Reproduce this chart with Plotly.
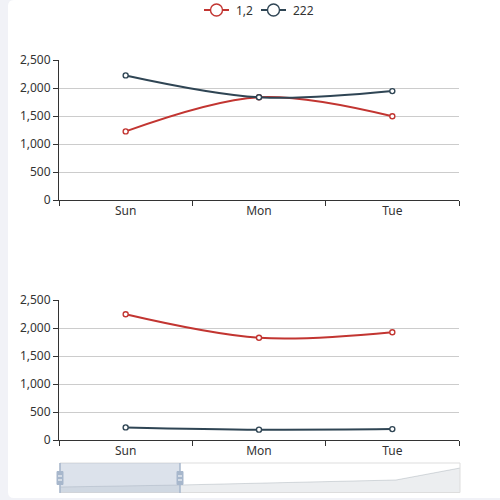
import plotly.graph_objects as go

days = ["Sun", "Mon", "Tue"]

# top grid
top_a = [1225, 1835, 1495]      # "1,2"
top_b = [2225, 1835, 1945]      # "222"
# bottom grid
bottom_a = [2245, 1825, 1925]
bottom_b = [225, 185, 195]

# dataZoom shadow (relative position, height)
shadow_pos = [0, 0.3, 0.84, 1.0]
shadow_val = [5, 7, 12, 24]

red = "#c23531"
navy = "#2f4554"
font = dict(family="Noto Sans, Open Sans, sans-serif", size=12, color="#333")

fig = go.Figure()


def add_line(x, y, color, xa, ya):
    fig.add_trace(go.Scatter(
        x=x, y=y, mode="lines+markers", xaxis=xa, yaxis=ya,
        line=dict(color=color, width=2, shape="spline"),
        marker=dict(symbol="circle", size=5, color="white",
                    line=dict(color=color, width=1.4)),
        showlegend=False, hoverinfo="skip"))


add_line(days, top_a, red, "x", "y")
add_line(days, top_b, navy, "x", "y")
add_line(days, bottom_a, red, "x2", "y2")
add_line(days, bottom_b, navy, "x2", "y2")

fig.add_trace(go.Scatter(
    x=shadow_pos, y=shadow_val, xaxis="x3", yaxis="y3", mode="lines",
    line=dict(color="rgba(47,69,84,0.3)", width=0.6),
    fill="tozeroy", fillcolor="rgba(47,69,84,0.09)",
    showlegend=False, hoverinfo="skip"))

xdom = [59 / 500, 459 / 500]
cat_axis = dict(type="category", range=[-0.5, 2.5], domain=xdom,
                showline=True, linecolor="#333", linewidth=1,
                ticks="outside", tickson="boundaries", ticklen=5,
                tickcolor="#333", showgrid=False, zeroline=False,
                tickfont=font, fixedrange=True, automargin=False)
val_axis = dict(range=[0, 2500], dtick=500, tickformat=",",
                showline=True, linecolor="#333", linewidth=1,
                ticks="outside", ticklen=5, tickcolor="#333",
                gridcolor="#ccc", zeroline=False, tickfont=font,
                fixedrange=True, automargin=False)

fig.update_layout(
    width=500, height=500,
    margin=dict(l=0, r=0, t=0, b=0, autoexpand=False),
    showlegend=False,
    paper_bgcolor="#f1f2f7",
    plot_bgcolor="rgba(0,0,0,0)",
    font=font,
    xaxis=dict(cat_axis, anchor="y"),
    yaxis=dict(val_axis, domain=[0.6, 0.88], anchor="x"),
    xaxis2=dict(cat_axis, anchor="y2"),
    yaxis2=dict(val_axis, domain=[0.12, 0.4], anchor="x2"),
    xaxis3=dict(domain=[60 / 500, 460 / 500], range=[0, 1], visible=False,
                anchor="y3", fixedrange=True, automargin=False),
    yaxis3=dict(domain=[1 - 492 / 500, 1 - 463 / 500], range=[0, 29],
                visible=False, anchor="x3", fixedrange=True, automargin=False),
)

shapes = []
# white card behind the chart
r = 6 / 500
x0, y0, y1 = 8 / 500, 1 - 498 / 500, 1.0
shapes.append(dict(
    type="path", xref="paper", yref="paper", layer="below",
    path=(f"M {x0 + r},{y0} L 1,{y0} L 1,{y1} L {x0 + r},{y1} "
          f"Q {x0},{y1} {x0},{y1 - r} L {x0},{y0 + r} Q {x0},{y0} {x0 + r},{y0} Z"),
    fillcolor="white", line=dict(width=0)))

# slider frame
px = lambda v: v / 500
py = lambda v: 1 - v / 500
shapes.append(dict(type="rect", xref="paper", yref="paper",
                   x0=px(60), x1=px(460), y0=py(492.5), y1=py(463),
                   line=dict(color="#ddd", width=1), fillcolor="rgba(0,0,0,0)"))
# selected window
shapes.append(dict(type="rect", xref="paper", yref="paper",
                   x0=px(60), x1=px(180), y0=py(492.5), y1=py(463),
                   line=dict(width=0), fillcolor="rgba(167,183,204,0.4)"))
for hx in (60, 180):
    shapes.append(dict(type="line", xref="paper", yref="paper",
                       x0=px(hx), x1=px(hx), y0=py(493), y1=py(463),
                       line=dict(color="#a7b7cc", width=1.5)))
    shapes.append(dict(type="rect", xref="paper", yref="paper",
                       x0=px(hx - 3), x1=px(hx + 3), y0=py(484.5), y1=py(471.5),
                       line=dict(color="#a7b7cc", width=1), fillcolor="#a7b7cc"))
    for ly in (476, 480):
        shapes.append(dict(type="line", xref="paper", yref="paper",
                           x0=px(hx - 2), x1=px(hx + 2), y0=py(ly), y1=py(ly),
                           line=dict(color="white", width=1)))

# legend
legend_items = [("1,2", red, 204), ("222", navy, 261)]
annotations = []
for name, color, lx in legend_items:
    shapes.append(dict(type="line", xref="paper", yref="paper",
                       x0=px(lx), x1=px(lx + 25), y0=py(10), y1=py(10),
                       line=dict(color=color, width=2)))
    shapes.append(dict(type="circle", xref="paper", yref="paper",
                       x0=px(lx + 6.5), x1=px(lx + 18.5), y0=py(16), y1=py(4),
                       line=dict(color=color, width=1.4), fillcolor="white"))
    annotations.append(dict(text=name, xref="paper", yref="paper",
                            x=px(lx + 30), y=py(10), xanchor="left",
                            yanchor="middle", showarrow=False, font=font))

fig.update_layout(shapes=shapes, annotations=annotations)

# pin the graph to the top-left corner of the window
pin = ("document.documentElement.style.margin='0';"
       "document.body.style.margin='0';document.body.style.overflow='hidden';"
       "var gd=document.getElementById('{plot_id}');"
       "gd.style.position='fixed';gd.style.top='0';gd.style.left='0';")
fig.write_html("out.html", config={"displayModeBar": False}, post_script=pin)
